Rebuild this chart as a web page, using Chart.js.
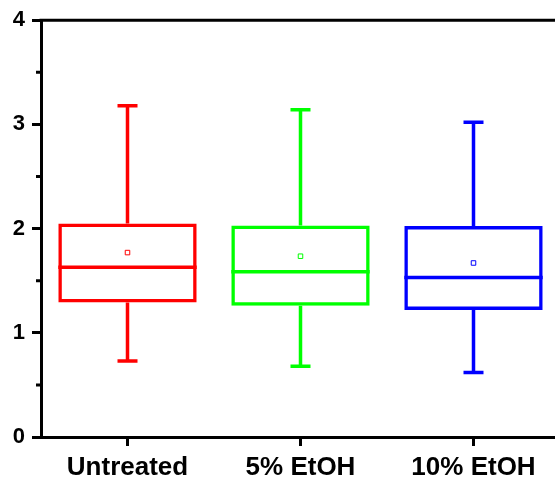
<!DOCTYPE html>
<html>
<head>
<meta charset="utf-8">
<script src="https://cdn.jsdelivr.net/npm/chart.js@4/dist/chart.umd.min.js"></script>
<style>
  html, body { margin: 0; padding: 0; background: #fff; }
  #wrap { width: 555px; height: 481px; overflow: hidden; }
  #box { width: 565px; height: 481px; }
</style>
</head>
<body>
<div id="wrap"><div id="box"><canvas id="c"></canvas></div></div>
<script>
// Groups and box statistics
const groups = ['Untreated', '5% EtOH', '10% EtOH'];
const colors = ['#ff0000', '#00ff00', '#0000ff'];
const whiskerLow = [0.73, 0.68, 0.62];
const q1 = [1.29, 1.26, 1.22];
const median = [1.63, 1.585, 1.53];
const q3 = [2.05, 2.03, 2.025];
const whiskerHigh = [3.18, 3.14, 3.02];
const mean = [1.77, 1.735, 1.67];
const yTicks = [0, 1, 2, 3, 4];

const LINE = 3.5;
const CAP = 20;

// Whiskers, caps, medians, minor ticks and the top frame line
const boxExtras = {
  id: 'boxExtras',
  afterDatasetsDraw(chart) {
    const { ctx, chartArea, scales } = chart;
    const x = scales.x, y = scales.y;
    const barMeta = chart.getDatasetMeta(0);
    ctx.save();
    ctx.lineCap = 'butt';
    groups.forEach((g, i) => {
      const cx = x.getPixelForValue(i);
      const half = barMeta.data[i].width / 2;
      ctx.strokeStyle = colors[i];
      ctx.lineWidth = LINE;
      ctx.beginPath();
      // upper whisker
      ctx.moveTo(cx, y.getPixelForValue(q3[i]));
      ctx.lineTo(cx, y.getPixelForValue(whiskerHigh[i]));
      // lower whisker
      ctx.moveTo(cx, y.getPixelForValue(q1[i]));
      ctx.lineTo(cx, y.getPixelForValue(whiskerLow[i]));
      // caps
      const yh = y.getPixelForValue(whiskerHigh[i]);
      const yl = y.getPixelForValue(whiskerLow[i]);
      ctx.moveTo(cx - CAP / 2, yh); ctx.lineTo(cx + CAP / 2, yh);
      ctx.moveTo(cx - CAP / 2, yl); ctx.lineTo(cx + CAP / 2, yl);
      // median
      const ym = y.getPixelForValue(median[i]);
      ctx.moveTo(cx - half, ym); ctx.lineTo(cx + half, ym);
      ctx.stroke();
    });
    // minor ticks on the value axis
    ctx.strokeStyle = '#000';
    ctx.lineWidth = 3;
    ctx.beginPath();
    for (let v = 0.5; v < 4; v += 1) {
      const py = y.getPixelForValue(v);
      ctx.moveTo(chartArea.left - 5, py);
      ctx.lineTo(chartArea.left, py);
    }
    // top frame line
    ctx.moveTo(chartArea.left - 1.5, chartArea.top);
    ctx.lineTo(chartArea.right, chartArea.top);
    ctx.stroke();
    ctx.restore();
  }
};

new Chart(document.getElementById('c'), {
  type: 'bar',
  data: {
    labels: groups,
    datasets: [
      {
        label: 'IQR',
        data: groups.map((g, i) => [q1[i], q3[i]]),
        backgroundColor: 'rgba(0,0,0,0)',
        borderColor: colors,
        borderWidth: LINE,
        borderSkipped: false,
        barPercentage: 0.8,
        categoryPercentage: 1.0
      },
      {
        type: 'line',
        label: 'Mean',
        data: mean,
        showLine: false,
        pointStyle: 'rect',
        pointRadius: 3.2,
        pointBorderWidth: 1,
        pointBackgroundColor: '#fff',
        pointBorderColor: colors
      }
    ]
  },
  options: {
    responsive: true,
    maintainAspectRatio: false,
    animation: false,
    events: [],
    layout: { padding: { top: 18, right: 2, bottom: 0, left: 0 } },
    plugins: { legend: { display: false }, tooltip: { enabled: false } },
    scales: {
      x: {
        type: 'category',
        offset: true,
        grid: {
          display: true,
          drawOnChartArea: false,
          offset: false,
          tickLength: 9,
          tickWidth: 3,
          tickColor: '#000'
        },
        border: { display: true, color: '#000', width: 3 },
        ticks: {
          color: '#000',
          padding: 6,
          font: { family: '"Liberation Sans", Arial, sans-serif', size: 26, weight: 'bold' }
        },
        afterFit(s) { s.height = 44; }
      },
      y: {
        min: 0,
        max: 4,
        afterBuildTicks(s) { s.ticks = yTicks.map(v => ({ value: v })); },
        grid: {
          display: true,
          drawOnChartArea: false,
          tickLength: 9,
          tickWidth: 3,
          tickColor: '#000'
        },
        border: { display: true, color: '#000', width: 3 },
        ticks: {
          color: '#000',
          padding: 7,
          font: { family: '"Liberation Sans", Arial, sans-serif', size: 22, weight: 'bold' }
        },
        afterFit(s) { s.width = 41; }
      }
    }
  },
  plugins: [boxExtras]
});
</script>
</body>
</html>
